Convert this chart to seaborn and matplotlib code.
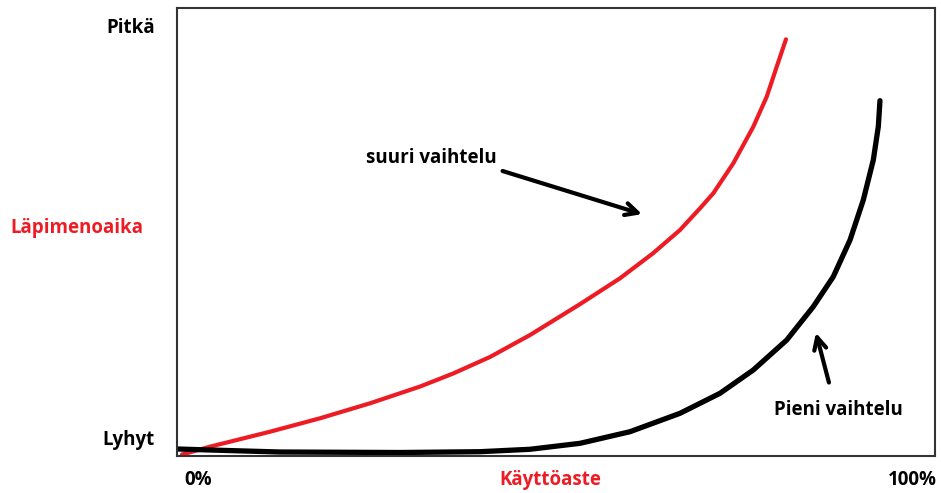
import numpy as np
import matplotlib
matplotlib.use("Agg")
import matplotlib.pyplot as plt
import seaborn as sns

# kayttoaste (0-100) vs lapimenoaika (0-100)
suuri_x = [0.66, 4.35, 12.27, 18.87, 25.46, 32.06, 36.41, 41.29, 46.57, 53.17,
           58.44, 62.80, 66.36, 69.0, 70.75, 73.39, 76.03, 77.80, 79.12, 80.34]
suuri_y = [0.33, 2.08, 5.42, 8.42, 11.76, 15.5, 18.4, 22.1, 27.0, 33.9,
           39.66, 45.25, 50.45, 55.29, 58.64, 65.33, 73.50, 80.20, 86.90, 93.01]

pieni_x = [0.13, 4.35, 13.59, 29.42, 39.97, 46.57, 53.17, 59.76, 66.36, 71.64,
           76.03, 80.44, 83.94, 86.58, 88.79, 90.54, 91.86, 92.52, 92.74]
pieni_y = [1.56, 1.34, 0.89, 0.78, 0.96, 1.50, 2.83, 5.42, 9.53, 14.0,
           19.2, 25.89, 33.33, 40.02, 48.21, 57.14, 66.07, 73.50, 79.31]

red = "#ED1C24"

sns.set_style("white")
plt.rcParams['font.family'] = ['Open Sans', 'DejaVu Sans']
plt.rcParams['text.color'] = 'black'

fig = plt.figure(figsize=(9.41, 4.93), dpi=100)
ax = fig.add_axes([177/941, 1 - 456/493, (935-177)/941, (456-8)/493])

sns.lineplot(x=suuri_x, y=suuri_y, color=red, lw=3, sort=False, ax=ax)
sns.lineplot(x=pieni_x, y=pieni_y, color="black", lw=3.8, sort=False, ax=ax)

ax.set_xlim(0, 100)
ax.set_ylim(0, 100)
ax.set_xticks([])
ax.set_yticks([])
for s in ax.spines.values():
    s.set_color("#333333")
    s.set_linewidth(1.5)

arrow = dict(arrowstyle="->", color="black", lw=3, mutation_scale=22)
ax.annotate("", xy=(61.7, 53.8), xytext=(42.6, 63.8), arrowprops=arrow)
ax.annotate("", xy=(84.2, 28.1), xytext=(86.1, 15.8), arrowprops=arrow)

fs = 13.5
ax.text(33.5, 66.5, "suuri vaihtelu", fontsize=fs, fontweight="bold", ha="center", va="center")
ax.text(87.2, 10.3, "Pieni vaihtelu", fontsize=fs, fontweight="bold", ha="center", va="center")

fig.text(155/941, 1 - 28/493, "Pitkä", fontsize=fs, fontweight="bold", ha="right", va="center")
fig.text(155/941, 1 - 440/493, "Lyhyt", fontsize=fs, fontweight="bold", ha="right", va="center")
fig.text(77/941, 1 - 228/493, "Läpimenoaika", fontsize=fs, fontweight="bold", color=red, ha="center", va="center")
fig.text(198/941, 1 - 480/493, "0%", fontsize=fs, fontweight="bold", ha="center", va="center")
fig.text(550/941, 1 - 480/493, "Käyttöaste", fontsize=fs, fontweight="bold", color=red, ha="center", va="center")
fig.text(912/941, 1 - 480/493, "100%", fontsize=fs, fontweight="bold", ha="center", va="center")

fig.savefig("out.png", dpi=100)
plt.close(fig)
